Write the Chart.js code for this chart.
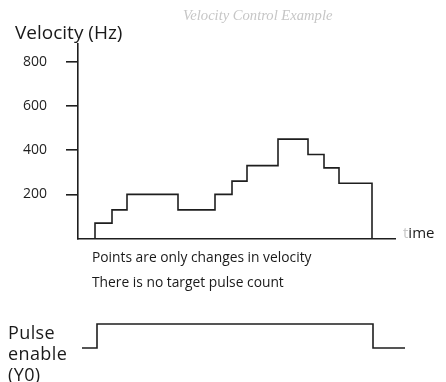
<!DOCTYPE html>
<html>
<head>
<meta charset="utf-8">
<script src="https://cdn.jsdelivr.net/npm/chart.js@4/dist/chart.umd.min.js"></script>
<style>
    body { margin: 0; background: #fff; font-family: 'Open Sans', sans-serif; color: #1a1a1a; }
    #wrap { position: relative; width: 446px; height: 382px; overflow: hidden; }
    canvas { position: absolute; left: 0; }
    .txt { position: absolute; white-space: nowrap; line-height: 1; }
</style>
</head>
<body>
<div id="wrap">
    <canvas id="velocityChart" width="446" height="266" style="top:0"></canvas>
    <canvas id="pulseChart" width="446" height="70" style="top:300px"></canvas>

    <div class="txt" style="left:183px; top:7px; font: italic 14.6px 'Liberation Serif'; color:#c6c6c6;">Velocity Control Example</div>
    <div class="txt" style="left:15px; top:23px; font-size:19px;">Velocity (Hz)</div>
    <div class="txt" style="left:403px; top:225px; font-size:15px;"><span style="color:#c8c8c8">t</span>ime</div>
    <div class="txt" style="left:92px; top:250px; font-size:13.8px;">Points are only changes in velocity</div>
    <div class="txt" style="left:92px; top:275px; font-size:13.8px;">There is no target pulse count</div>
    <div class="txt" style="left:8px; top:322px; font-size:18px; line-height:21px; letter-spacing:0.4px;">Pulse<br>enable<br>(Y0)</div>
</div>

<script>
// velocity profile: each point is where the commanded frequency changes
const stepTimes  = [17, 17, 34, 49, 100, 137, 154, 169, 200, 230, 246, 261, 294];
const velocities = [0, 70, 130, 200, 130, 200, 260, 330, 450, 380, 320, 250, 0];
const yTicks = [200, 400, 600, 800];

// pulse enable output (0 = off, 1 = on)
const pulseTimes  = [4, 19, 295, 327];
const pulseLevels = [0, 1, 0, 0];

const timeMax = 317;
const velMax = 880;

Chart.defaults.animation = false;
Chart.defaults.devicePixelRatio = 1;

function toPoints(xs, ys) {
    return xs.map((x, i) => ({ x: x, y: ys[i] }));
}

function renderVelocityChart() {
    const ctx = document.getElementById('velocityChart').getContext('2d');
    return new Chart(ctx, {
        type: 'line',
        data: {
            datasets: [{
                data: toPoints(stepTimes, velocities),
                stepped: true,
                borderColor: '#1e1e1e',
                borderWidth: 1.6,
                pointRadius: 0,
                fill: false,
            }],
        },
        options: {
            responsive: false,
            events: [],
            layout: { padding: { top: 44, right: 51, left: 0, bottom: 0 } },
            plugins: { legend: { display: false }, tooltip: { enabled: false } },
            scales: {
                x: {
                    type: 'linear', min: 0, max: timeMax,
                    ticks: { display: false },
                    grid: { display: false },
                    border: { display: true, color: '#1e1e1e', width: 1.6 },
                    afterFit: s => { s.height = 13; },
                },
                y: {
                    min: 0, max: velMax,
                    afterBuildTicks: s => { s.ticks = yTicks.map(v => ({ value: v })); },
                    ticks: { padding: 19, color: '#1e1e1e', font: { family: 'Open Sans', size: 14 } },
                    grid: { drawOnChartArea: false, drawTicks: true, tickLength: 12, color: '#1e1e1e', lineWidth: 1.6 },
                    border: { display: true, color: '#1e1e1e', width: 1.6 },
                    afterFit: s => { s.width = 78; },
                },
            },
        },
    });
}

function renderPulseChart() {
    const ctx = document.getElementById('pulseChart').getContext('2d');
    return new Chart(ctx, {
        type: 'line',
        data: {
            datasets: [{
                data: toPoints(pulseTimes, pulseLevels),
                stepped: true,
                borderColor: '#1e1e1e',
                borderWidth: 1.6,
                pointRadius: 0,
                fill: false,
                clip: false,
            }],
        },
        options: {
            responsive: false,
            events: [],
            layout: { padding: { top: 24, right: 51, left: 78, bottom: 22 } },
            plugins: { legend: { display: false }, tooltip: { enabled: false } },
            scales: {
                x: { type: 'linear', min: 0, max: timeMax, display: false },
                y: { min: 0, max: 1, display: false },
            },
        },
    });
}

renderVelocityChart();
renderPulseChart();
</script>
</body>
</html>
